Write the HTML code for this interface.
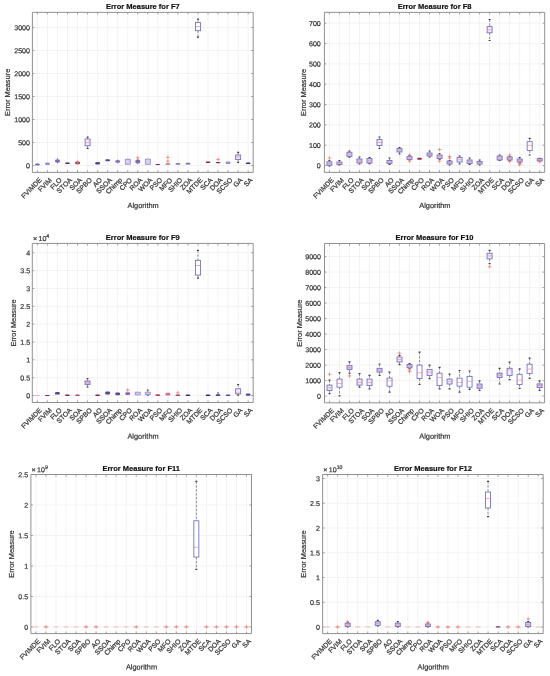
<!DOCTYPE html>
<html><head><meta charset="utf-8"><style>
html,body{margin:0;padding:0;background:#fff;}
body{width:550px;height:676px;overflow:hidden;}
svg{display:block;filter:blur(0.45px);}
text{font-family:"Liberation Sans",sans-serif;fill:#303030;stroke:#303030;stroke-width:0.2px;}
.tk{font-size:7.1px;}
.lb{font-size:7.4px;}
.xt{font-size:6.85px;}
.ti{font-size:7.5px;font-weight:bold;fill:#111;stroke:#111;}
</style></head><body>
<svg width="550" height="676" viewBox="0 0 550 676">
<rect width="550" height="676" fill="#fff"/>
<path d="M37.42 12.35V172.4M47.45 12.35V172.4M57.49 12.35V172.4M67.53 12.35V172.4M77.56 12.35V172.4M87.6 12.35V172.4M97.64 12.35V172.4M107.67 12.35V172.4M117.71 12.35V172.4M127.75 12.35V172.4M137.78 12.35V172.4M147.82 12.35V172.4M157.85 12.35V172.4M167.89 12.35V172.4M177.93 12.35V172.4M187.96 12.35V172.4M198 12.35V172.4M208.04 12.35V172.4M218.07 12.35V172.4M228.11 12.35V172.4M238.15 12.35V172.4M248.18 12.35V172.4M32.4 165.5H253.2M32.4 142.5H253.2M32.4 119.5H253.2M32.4 96.5H253.2M32.4 73.5H253.2M32.4 50.5H253.2M32.4 27.5H253.2" stroke="#f3f3f3" stroke-width="1" fill="none"/>
<rect x="35.02" y="163.5" width="4.8" height="2" rx="1.2" fill="#8068bc"/>
<rect x="45.05" y="162.6" width="4.8" height="2.4" rx="1.2" fill="#9a8cd4"/>
<path d="M57.49 158.4V163.4" stroke="#8068bc" stroke-width="1" fill="none"/>
<rect x="55.09" y="159.5" width="4.8" height="2.9" rx="1.2" fill="#8068bc"/>
<rect x="65.13" y="162.5" width="4.8" height="1.5" rx="1.2" fill="#34286a"/>
<rect x="75.16" y="161.8" width="4.8" height="2.5" rx="1.2" fill="#7a2848"/>
<path d="M75.76 161.6H79.36M77.56 159.8V163.4" stroke="#f07878" stroke-width="0.75"/>
<path d="M75.76 163H79.36M77.56 161.2V164.8" stroke="#f07878" stroke-width="0.75"/>
<path d="M87.6 137.2V139M87.6 145.8V148.5" stroke="#707070" stroke-width="0.8" fill="none" stroke-dasharray="2.4 1.5"/>
<path d="M86.6 137.2H88.6M86.6 148.5H88.6" stroke="#404040" stroke-width="1.2" fill="none"/>
<rect x="85.1" y="139" width="5" height="6.8" stroke="#6e6acc" stroke-width="0.85" fill="#eeebfa"/>
<path d="M85.1 142.5H90.1" stroke="#e69090" stroke-width="0.7"/>
<rect x="95.24" y="162" width="4.8" height="2.5" rx="1.2" fill="#5a4494"/>
<rect x="105.27" y="159.2" width="4.8" height="2" rx="1.2" fill="#5a4494"/>
<path d="M117.71 159.6V163.4" stroke="#8068bc" stroke-width="1" fill="none"/>
<rect x="115.31" y="160.2" width="4.8" height="2.4" rx="1.2" fill="#8068bc"/>
<path d="M127.75 158.8V159.3M127.75 164.2V164.8" stroke="#707070" stroke-width="0.8" fill="none" stroke-dasharray="2.4 1.5"/>
<rect x="125.25" y="159.3" width="5" height="4.9" stroke="#9a8cd4" stroke-width="0.85" fill="#d8d0f0"/>
<path d="M137.78 158.8V164.2" stroke="#8068bc" stroke-width="1" fill="none"/>
<rect x="135.38" y="159.8" width="4.8" height="3.4" rx="1.2" fill="#8068bc"/>
<path d="M135.98 157.8H139.58M137.78 156V159.6" stroke="#f07878" stroke-width="0.75"/>
<path d="M147.82 158.6V159.2M147.82 164.3V164.8" stroke="#707070" stroke-width="0.8" fill="none" stroke-dasharray="2.4 1.5"/>
<rect x="145.32" y="159.2" width="5" height="5.1" stroke="#9a8cd4" stroke-width="0.85" fill="#d8d0f0"/>
<rect x="155.45" y="164" width="4.8" height="1" rx="1.2" fill="#7a2848"/>
<rect x="165.49" y="163.6" width="4.8" height="1" rx="1.2" fill="#7a2848"/>
<path d="M166.09 157.4H169.69M167.89 155.6V159.2" stroke="#f07878" stroke-width="0.75"/>
<path d="M166.09 161.2H169.69M167.89 159.4V163" stroke="#f07878" stroke-width="0.75"/>
<rect x="175.53" y="163.2" width="4.8" height="1.4" rx="1.2" fill="#5a4494"/>
<rect x="185.56" y="162.8" width="4.8" height="1.8" rx="1.2" fill="#8068bc"/>
<path d="M198 19.2V22.4M198 30.7V37.2" stroke="#707070" stroke-width="0.8" fill="none" stroke-dasharray="2.4 1.5"/>
<path d="M197 19.2H199M197 37.2H199" stroke="#404040" stroke-width="1.2" fill="none"/>
<rect x="195.5" y="22.4" width="5" height="8.3" stroke="#6e6acc" stroke-width="0.85" fill="#fff"/>
<path d="M195.5 26.6H200.5" stroke="#e69090" stroke-width="0.7"/>
<rect x="205.64" y="161.5" width="4.8" height="1.6" rx="1.2" fill="#7a2848"/>
<rect x="215.67" y="162" width="4.8" height="1.2" rx="1.2" fill="#7a2848"/>
<path d="M216.27 159.5H219.87M218.07 157.7V161.3" stroke="#f07878" stroke-width="0.75"/>
<rect x="225.71" y="161.6" width="4.8" height="2.5" rx="1.2" fill="#9a8cd4"/>
<path d="M238.15 152.3V155M238.15 159.6V162.3" stroke="#707070" stroke-width="0.8" fill="none" stroke-dasharray="2.4 1.5"/>
<path d="M237.15 152.3H239.15M237.15 162.3H239.15" stroke="#404040" stroke-width="1.2" fill="none"/>
<rect x="235.65" y="155" width="5" height="4.6" stroke="#6e6acc" stroke-width="0.85" fill="#eeebfa"/>
<path d="M235.65 156.9H240.65" stroke="#e69090" stroke-width="0.7"/>
<rect x="245.78" y="162.5" width="4.8" height="1.6" rx="1.2" fill="#34286a"/>
<path d="M37.42 172.4v-2.0M37.42 12.35v2.0M47.45 172.4v-2.0M47.45 12.35v2.0M57.49 172.4v-2.0M57.49 12.35v2.0M67.53 172.4v-2.0M67.53 12.35v2.0M77.56 172.4v-2.0M77.56 12.35v2.0M87.6 172.4v-2.0M87.6 12.35v2.0M97.64 172.4v-2.0M97.64 12.35v2.0M107.67 172.4v-2.0M107.67 12.35v2.0M117.71 172.4v-2.0M117.71 12.35v2.0M127.75 172.4v-2.0M127.75 12.35v2.0M137.78 172.4v-2.0M137.78 12.35v2.0M147.82 172.4v-2.0M147.82 12.35v2.0M157.85 172.4v-2.0M157.85 12.35v2.0M167.89 172.4v-2.0M167.89 12.35v2.0M177.93 172.4v-2.0M177.93 12.35v2.0M187.96 172.4v-2.0M187.96 12.35v2.0M198 172.4v-2.0M198 12.35v2.0M208.04 172.4v-2.0M208.04 12.35v2.0M218.07 172.4v-2.0M218.07 12.35v2.0M228.11 172.4v-2.0M228.11 12.35v2.0M238.15 172.4v-2.0M238.15 12.35v2.0M248.18 172.4v-2.0M248.18 12.35v2.0M32.4 165.5h2.0M253.2 165.5h-2.0M32.4 142.5h2.0M253.2 142.5h-2.0M32.4 119.5h2.0M253.2 119.5h-2.0M32.4 96.5h2.0M253.2 96.5h-2.0M32.4 73.5h2.0M253.2 73.5h-2.0M32.4 50.5h2.0M253.2 50.5h-2.0M32.4 27.5h2.0M253.2 27.5h-2.0" stroke="#8c8c8c" stroke-width="0.8" fill="none"/>
<path d="M32.4 12.35H253.2V172.4H32.4Z" stroke="#919191" stroke-width="1" fill="none"/>
<text x="30" y="168.25" text-anchor="end" class="tk" transform="rotate(0.05 30 168.25)">0</text>
<text x="30" y="145.25" text-anchor="end" class="tk" transform="rotate(0.05 30 145.25)">500</text>
<text x="30" y="122.25" text-anchor="end" class="tk" transform="rotate(0.05 30 122.25)">1000</text>
<text x="30" y="99.25" text-anchor="end" class="tk" transform="rotate(0.05 30 99.25)">1500</text>
<text x="30" y="76.25" text-anchor="end" class="tk" transform="rotate(0.05 30 76.25)">2000</text>
<text x="30" y="53.25" text-anchor="end" class="tk" transform="rotate(0.05 30 53.25)">2500</text>
<text x="30" y="30.25" text-anchor="end" class="tk" transform="rotate(0.05 30 30.25)">3000</text>
<text x="42.32" y="180.6" text-anchor="end" class="xt" transform="rotate(-45 42.32 180.6)">FVIMDE</text>
<text x="52.35" y="180.6" text-anchor="end" class="xt" transform="rotate(-45 52.35 180.6)">FVIM</text>
<text x="62.39" y="180.6" text-anchor="end" class="xt" transform="rotate(-45 62.39 180.6)">FLO</text>
<text x="72.43" y="180.6" text-anchor="end" class="xt" transform="rotate(-45 72.43 180.6)">STOA</text>
<text x="82.46" y="180.6" text-anchor="end" class="xt" transform="rotate(-45 82.46 180.6)">SOA</text>
<text x="92.5" y="180.6" text-anchor="end" class="xt" transform="rotate(-45 92.5 180.6)">SPBO</text>
<text x="102.54" y="180.6" text-anchor="end" class="xt" transform="rotate(-45 102.54 180.6)">AO</text>
<text x="112.57" y="180.6" text-anchor="end" class="xt" transform="rotate(-45 112.57 180.6)">SSOA</text>
<text x="122.61" y="180.6" text-anchor="end" class="xt" transform="rotate(-45 122.61 180.6)">Chimp</text>
<text x="132.65" y="180.6" text-anchor="end" class="xt" transform="rotate(-45 132.65 180.6)">CPO</text>
<text x="142.68" y="180.6" text-anchor="end" class="xt" transform="rotate(-45 142.68 180.6)">ROA</text>
<text x="152.72" y="180.6" text-anchor="end" class="xt" transform="rotate(-45 152.72 180.6)">WOA</text>
<text x="162.75" y="180.6" text-anchor="end" class="xt" transform="rotate(-45 162.75 180.6)">PSO</text>
<text x="172.79" y="180.6" text-anchor="end" class="xt" transform="rotate(-45 172.79 180.6)">MFO</text>
<text x="182.83" y="180.6" text-anchor="end" class="xt" transform="rotate(-45 182.83 180.6)">SHIO</text>
<text x="192.86" y="180.6" text-anchor="end" class="xt" transform="rotate(-45 192.86 180.6)">ZOA</text>
<text x="202.9" y="180.6" text-anchor="end" class="xt" transform="rotate(-45 202.9 180.6)">MTDE</text>
<text x="212.94" y="180.6" text-anchor="end" class="xt" transform="rotate(-45 212.94 180.6)">SCA</text>
<text x="222.97" y="180.6" text-anchor="end" class="xt" transform="rotate(-45 222.97 180.6)">DOA</text>
<text x="233.01" y="180.6" text-anchor="end" class="xt" transform="rotate(-45 233.01 180.6)">SCSO</text>
<text x="243.05" y="180.6" text-anchor="end" class="xt" transform="rotate(-45 243.05 180.6)">GA</text>
<text x="253.08" y="180.6" text-anchor="end" class="xt" transform="rotate(-45 253.08 180.6)">SA</text>
<text x="142.8" y="9.15" text-anchor="middle" class="ti" transform="rotate(0.02 142.8 9.15)">Error Measure for F7</text>
<text x="143.1" y="207.9" text-anchor="middle" class="lb" transform="rotate(0.03 142.8 207.9)">Algorithm</text>
<text x="9.9" y="92.38" text-anchor="middle" class="lb" transform="rotate(-90 9.9 92.38)">Error Measure</text>
<path d="M329.41 12.35V172.4M339.42 12.35V172.4M349.43 12.35V172.4M359.45 12.35V172.4M369.46 12.35V172.4M379.48 12.35V172.4M389.49 12.35V172.4M399.5 12.35V172.4M409.52 12.35V172.4M419.53 12.35V172.4M429.54 12.35V172.4M439.56 12.35V172.4M449.57 12.35V172.4M459.58 12.35V172.4M469.6 12.35V172.4M479.61 12.35V172.4M489.62 12.35V172.4M499.64 12.35V172.4M509.65 12.35V172.4M519.67 12.35V172.4M529.68 12.35V172.4M539.69 12.35V172.4M324.4 165.5H544.7M324.4 145.17H544.7M324.4 124.84H544.7M324.4 104.51H544.7M324.4 84.18H544.7M324.4 63.85H544.7M324.4 43.52H544.7M324.4 23.19H544.7" stroke="#f3f3f3" stroke-width="1" fill="none"/>
<path d="M329.41 160.5V161.8M329.41 165.3V166" stroke="#707070" stroke-width="0.8" fill="none" stroke-dasharray="2.4 1.5"/>
<path d="M328.41 160.5H330.41M328.41 166H330.41" stroke="#404040" stroke-width="1.2" fill="none"/>
<rect x="326.91" y="161.8" width="5" height="3.5" stroke="#6e6acc" stroke-width="0.85" fill="#d2cbee"/>
<path d="M326.91 163.5H331.91" stroke="#e69090" stroke-width="0.7"/>
<path d="M327.61 158H331.21M329.41 156.2V159.8" stroke="#f07878" stroke-width="0.75"/>
<path d="M339.42 160.5V162M339.42 164.5V165" stroke="#707070" stroke-width="0.8" fill="none" stroke-dasharray="2.4 1.5"/>
<path d="M338.42 160.5H340.42M338.42 165H340.42" stroke="#404040" stroke-width="1.2" fill="none"/>
<rect x="336.92" y="162" width="5" height="2.5" stroke="#6e6acc" stroke-width="0.85" fill="#d2cbee"/>
<path d="M336.92 163.2H341.92" stroke="#e69090" stroke-width="0.7"/>
<path d="M349.43 151V152.2M349.43 156.4V157.2" stroke="#707070" stroke-width="0.8" fill="none" stroke-dasharray="2.4 1.5"/>
<path d="M348.43 151H350.43M348.43 157.2H350.43" stroke="#404040" stroke-width="1.2" fill="none"/>
<rect x="346.93" y="152.2" width="5" height="4.2" stroke="#6e6acc" stroke-width="0.85" fill="#d2cbee"/>
<path d="M346.93 154.2H351.93" stroke="#e69090" stroke-width="0.7"/>
<path d="M359.45 157V159M359.45 163V164" stroke="#707070" stroke-width="0.8" fill="none" stroke-dasharray="2.4 1.5"/>
<path d="M358.45 157H360.45M358.45 164H360.45" stroke="#404040" stroke-width="1.2" fill="none"/>
<rect x="356.95" y="159" width="5" height="4" stroke="#6e6acc" stroke-width="0.85" fill="#d2cbee"/>
<path d="M356.95 161H361.95" stroke="#e69090" stroke-width="0.7"/>
<path d="M369.46 157.5V158.6M369.46 163V163.6" stroke="#707070" stroke-width="0.8" fill="none" stroke-dasharray="2.4 1.5"/>
<path d="M368.46 157.5H370.46M368.46 163.6H370.46" stroke="#404040" stroke-width="1.2" fill="none"/>
<rect x="366.96" y="158.6" width="5" height="4.4" stroke="#6e6acc" stroke-width="0.85" fill="#d2cbee"/>
<path d="M366.96 160.7H371.96" stroke="#e69090" stroke-width="0.7"/>
<path d="M379.48 137V139.5M379.48 145.5V148.5" stroke="#707070" stroke-width="0.8" fill="none" stroke-dasharray="2.4 1.5"/>
<path d="M378.48 137H380.48M378.48 148.5H380.48" stroke="#404040" stroke-width="1.2" fill="none"/>
<rect x="376.98" y="139.5" width="5" height="6" stroke="#6e6acc" stroke-width="0.85" fill="#eeebfa"/>
<path d="M376.98 142.5H381.98" stroke="#e69090" stroke-width="0.7"/>
<path d="M389.49 158V160.5M389.49 163.5V164.5" stroke="#707070" stroke-width="0.8" fill="none" stroke-dasharray="2.4 1.5"/>
<path d="M388.49 158H390.49M388.49 164.5H390.49" stroke="#404040" stroke-width="1.2" fill="none"/>
<rect x="386.99" y="160.5" width="5" height="3" stroke="#6e6acc" stroke-width="0.85" fill="#d2cbee"/>
<path d="M386.99 162H391.99" stroke="#e69090" stroke-width="0.7"/>
<path d="M399.5 147.5V148.6M399.5 152V154" stroke="#707070" stroke-width="0.8" fill="none" stroke-dasharray="2.4 1.5"/>
<path d="M398.5 147.5H400.5M398.5 154H400.5" stroke="#404040" stroke-width="1.2" fill="none"/>
<rect x="397" y="148.6" width="5" height="3.4" stroke="#6e6acc" stroke-width="0.85" fill="#d2cbee"/>
<path d="M397 150.2H402" stroke="#e69090" stroke-width="0.7"/>
<path d="M409.52 155.5V156.6M409.52 159.5V160" stroke="#707070" stroke-width="0.8" fill="none" stroke-dasharray="2.4 1.5"/>
<path d="M408.52 155.5H410.52M408.52 160H410.52" stroke="#404040" stroke-width="1.2" fill="none"/>
<rect x="407.02" y="156.6" width="5" height="2.9" stroke="#6e6acc" stroke-width="0.85" fill="#d2cbee"/>
<path d="M407.02 158H412.02" stroke="#e69090" stroke-width="0.7"/>
<path d="M407.72 155H411.32M409.52 153.2V156.8" stroke="#f07878" stroke-width="0.75"/>
<path d="M407.72 161H411.32M409.52 159.2V162.8" stroke="#f07878" stroke-width="0.75"/>
<rect x="417.13" y="157.8" width="4.8" height="2" rx="1.2" fill="#a02848"/>
<path d="M429.54 151V153M429.54 156V157" stroke="#707070" stroke-width="0.8" fill="none" stroke-dasharray="2.4 1.5"/>
<path d="M428.54 151H430.54M428.54 157H430.54" stroke="#404040" stroke-width="1.2" fill="none"/>
<rect x="427.04" y="153" width="5" height="3" stroke="#6e6acc" stroke-width="0.85" fill="#d2cbee"/>
<path d="M427.04 154.5H432.04" stroke="#e69090" stroke-width="0.7"/>
<path d="M439.56 153.5V155M439.56 158.5V159.5" stroke="#707070" stroke-width="0.8" fill="none" stroke-dasharray="2.4 1.5"/>
<path d="M438.56 153.5H440.56M438.56 159.5H440.56" stroke="#404040" stroke-width="1.2" fill="none"/>
<rect x="437.06" y="155" width="5" height="3.5" stroke="#6e6acc" stroke-width="0.85" fill="#d2cbee"/>
<path d="M437.06 156.8H442.06" stroke="#e69090" stroke-width="0.7"/>
<path d="M437.76 149.5H441.36M439.56 147.7V151.3" stroke="#f07878" stroke-width="0.75"/>
<path d="M437.76 161H441.36M439.56 159.2V162.8" stroke="#f07878" stroke-width="0.75"/>
<path d="M449.57 160.5V161M449.57 164V165" stroke="#707070" stroke-width="0.8" fill="none" stroke-dasharray="2.4 1.5"/>
<path d="M448.57 160.5H450.57M448.57 165H450.57" stroke="#404040" stroke-width="1.2" fill="none"/>
<rect x="447.07" y="161" width="5" height="3" stroke="#6e6acc" stroke-width="0.85" fill="#d2cbee"/>
<path d="M447.07 162.5H452.07" stroke="#e69090" stroke-width="0.7"/>
<path d="M447.77 156.5H451.37M449.57 154.7V158.3" stroke="#f07878" stroke-width="0.75"/>
<path d="M447.77 158H451.37M449.57 156.2V159.8" stroke="#f07878" stroke-width="0.75"/>
<path d="M459.58 156V157.5M459.58 162V164" stroke="#707070" stroke-width="0.8" fill="none" stroke-dasharray="2.4 1.5"/>
<path d="M458.58 156H460.58M458.58 164H460.58" stroke="#404040" stroke-width="1.2" fill="none"/>
<rect x="457.08" y="157.5" width="5" height="4.5" stroke="#6e6acc" stroke-width="0.85" fill="#eeebfa"/>
<path d="M457.08 159.7H462.08" stroke="#e69090" stroke-width="0.7"/>
<path d="M469.6 158V160M469.6 163.5V164.5" stroke="#707070" stroke-width="0.8" fill="none" stroke-dasharray="2.4 1.5"/>
<path d="M468.6 158H470.6M468.6 164.5H470.6" stroke="#404040" stroke-width="1.2" fill="none"/>
<rect x="467.1" y="160" width="5" height="3.5" stroke="#6e6acc" stroke-width="0.85" fill="#d2cbee"/>
<path d="M467.1 161.7H472.1" stroke="#e69090" stroke-width="0.7"/>
<path d="M479.61 160V161.5M479.61 164V165" stroke="#707070" stroke-width="0.8" fill="none" stroke-dasharray="2.4 1.5"/>
<path d="M478.61 160H480.61M478.61 165H480.61" stroke="#404040" stroke-width="1.2" fill="none"/>
<rect x="477.11" y="161.5" width="5" height="2.5" stroke="#6e6acc" stroke-width="0.85" fill="#d2cbee"/>
<path d="M477.11 162.7H482.11" stroke="#e69090" stroke-width="0.7"/>
<path d="M489.62 19.5V26.6M489.62 32.8V40.5" stroke="#707070" stroke-width="0.8" fill="none" stroke-dasharray="2.4 1.5"/>
<path d="M488.62 19.5H490.62M488.62 40.5H490.62" stroke="#404040" stroke-width="1.2" fill="none"/>
<rect x="487.12" y="26.6" width="5" height="6.2" stroke="#6e6acc" stroke-width="0.85" fill="#eeebfa"/>
<path d="M487.12 29.8H492.12" stroke="#e69090" stroke-width="0.7"/>
<path d="M499.64 155V156M499.64 160V160.5" stroke="#707070" stroke-width="0.8" fill="none" stroke-dasharray="2.4 1.5"/>
<path d="M498.64 155H500.64M498.64 160.5H500.64" stroke="#404040" stroke-width="1.2" fill="none"/>
<rect x="497.14" y="156" width="5" height="4" stroke="#6e6acc" stroke-width="0.85" fill="#d2cbee"/>
<path d="M497.14 158H502.14" stroke="#e69090" stroke-width="0.7"/>
<path d="M509.65 156.5V157M509.65 160V160.5" stroke="#707070" stroke-width="0.8" fill="none" stroke-dasharray="2.4 1.5"/>
<path d="M508.65 156.5H510.65M508.65 160.5H510.65" stroke="#404040" stroke-width="1.2" fill="none"/>
<rect x="507.15" y="157" width="5" height="3" stroke="#6e6acc" stroke-width="0.85" fill="#d2cbee"/>
<path d="M507.15 158.5H512.15" stroke="#e69090" stroke-width="0.7"/>
<path d="M507.85 155H511.45M509.65 153.2V156.8" stroke="#f07878" stroke-width="0.75"/>
<path d="M507.85 161.5H511.45M509.65 159.7V163.3" stroke="#f07878" stroke-width="0.75"/>
<path d="M519.67 157.5V159M519.67 162V162.6" stroke="#707070" stroke-width="0.8" fill="none" stroke-dasharray="2.4 1.5"/>
<path d="M518.67 157.5H520.67M518.67 162.6H520.67" stroke="#404040" stroke-width="1.2" fill="none"/>
<rect x="517.17" y="159" width="5" height="3" stroke="#6e6acc" stroke-width="0.85" fill="#d2cbee"/>
<path d="M517.17 160.5H522.17" stroke="#e69090" stroke-width="0.7"/>
<path d="M517.87 163.5H521.47M519.67 161.7V165.3" stroke="#f07878" stroke-width="0.75"/>
<path d="M517.87 164.8H521.47M519.67 163V166.6" stroke="#f07878" stroke-width="0.75"/>
<path d="M529.68 138.4V141.7M529.68 150.4V155" stroke="#707070" stroke-width="0.8" fill="none" stroke-dasharray="2.4 1.5"/>
<path d="M528.68 138.4H530.68M528.68 155H530.68" stroke="#404040" stroke-width="1.2" fill="none"/>
<rect x="527.18" y="141.7" width="5" height="8.7" stroke="#6e6acc" stroke-width="0.85" fill="#fff"/>
<path d="M527.18 145.3H532.18" stroke="#e69090" stroke-width="0.7"/>
<path d="M538.69 158.3H540.69M538.69 161.2H540.69" stroke="#404040" stroke-width="1.2" fill="none"/>
<rect x="537.19" y="158.6" width="5" height="2.3" stroke="#6e6acc" stroke-width="0.85" fill="#d2cbee"/>
<path d="M537.19 159.5H542.19" stroke="#e69090" stroke-width="0.7"/>
<path d="M537.89 161.8H541.49M539.69 160V163.6" stroke="#f07878" stroke-width="0.75"/>
<path d="M329.41 172.4v-2.0M329.41 12.35v2.0M339.42 172.4v-2.0M339.42 12.35v2.0M349.43 172.4v-2.0M349.43 12.35v2.0M359.45 172.4v-2.0M359.45 12.35v2.0M369.46 172.4v-2.0M369.46 12.35v2.0M379.48 172.4v-2.0M379.48 12.35v2.0M389.49 172.4v-2.0M389.49 12.35v2.0M399.5 172.4v-2.0M399.5 12.35v2.0M409.52 172.4v-2.0M409.52 12.35v2.0M419.53 172.4v-2.0M419.53 12.35v2.0M429.54 172.4v-2.0M429.54 12.35v2.0M439.56 172.4v-2.0M439.56 12.35v2.0M449.57 172.4v-2.0M449.57 12.35v2.0M459.58 172.4v-2.0M459.58 12.35v2.0M469.6 172.4v-2.0M469.6 12.35v2.0M479.61 172.4v-2.0M479.61 12.35v2.0M489.62 172.4v-2.0M489.62 12.35v2.0M499.64 172.4v-2.0M499.64 12.35v2.0M509.65 172.4v-2.0M509.65 12.35v2.0M519.67 172.4v-2.0M519.67 12.35v2.0M529.68 172.4v-2.0M529.68 12.35v2.0M539.69 172.4v-2.0M539.69 12.35v2.0M324.4 165.5h2.0M544.7 165.5h-2.0M324.4 145.17h2.0M544.7 145.17h-2.0M324.4 124.84h2.0M544.7 124.84h-2.0M324.4 104.51h2.0M544.7 104.51h-2.0M324.4 84.18h2.0M544.7 84.18h-2.0M324.4 63.85h2.0M544.7 63.85h-2.0M324.4 43.52h2.0M544.7 43.52h-2.0M324.4 23.19h2.0M544.7 23.19h-2.0" stroke="#8c8c8c" stroke-width="0.8" fill="none"/>
<path d="M324.4 12.35H544.7V172.4H324.4Z" stroke="#919191" stroke-width="1" fill="none"/>
<text x="320.8" y="168.25" text-anchor="end" class="tk" transform="rotate(0.05 320.8 168.25)">0</text>
<text x="320.8" y="147.92" text-anchor="end" class="tk" transform="rotate(0.05 320.8 147.92)">100</text>
<text x="320.8" y="127.59" text-anchor="end" class="tk" transform="rotate(0.05 320.8 127.59)">200</text>
<text x="320.8" y="107.26" text-anchor="end" class="tk" transform="rotate(0.05 320.8 107.26)">300</text>
<text x="320.8" y="86.93" text-anchor="end" class="tk" transform="rotate(0.05 320.8 86.93)">400</text>
<text x="320.8" y="66.6" text-anchor="end" class="tk" transform="rotate(0.05 320.8 66.6)">500</text>
<text x="320.8" y="46.27" text-anchor="end" class="tk" transform="rotate(0.05 320.8 46.27)">600</text>
<text x="320.8" y="25.94" text-anchor="end" class="tk" transform="rotate(0.05 320.8 25.94)">700</text>
<text x="334.31" y="180.6" text-anchor="end" class="xt" transform="rotate(-45 334.31 180.6)">FVIMDE</text>
<text x="344.32" y="180.6" text-anchor="end" class="xt" transform="rotate(-45 344.32 180.6)">FVIM</text>
<text x="354.33" y="180.6" text-anchor="end" class="xt" transform="rotate(-45 354.33 180.6)">FLO</text>
<text x="364.35" y="180.6" text-anchor="end" class="xt" transform="rotate(-45 364.35 180.6)">STOA</text>
<text x="374.36" y="180.6" text-anchor="end" class="xt" transform="rotate(-45 374.36 180.6)">SOA</text>
<text x="384.38" y="180.6" text-anchor="end" class="xt" transform="rotate(-45 384.38 180.6)">SPBO</text>
<text x="394.39" y="180.6" text-anchor="end" class="xt" transform="rotate(-45 394.39 180.6)">AO</text>
<text x="404.4" y="180.6" text-anchor="end" class="xt" transform="rotate(-45 404.4 180.6)">SSOA</text>
<text x="414.42" y="180.6" text-anchor="end" class="xt" transform="rotate(-45 414.42 180.6)">Chimp</text>
<text x="424.43" y="180.6" text-anchor="end" class="xt" transform="rotate(-45 424.43 180.6)">CPO</text>
<text x="434.44" y="180.6" text-anchor="end" class="xt" transform="rotate(-45 434.44 180.6)">ROA</text>
<text x="444.46" y="180.6" text-anchor="end" class="xt" transform="rotate(-45 444.46 180.6)">WOA</text>
<text x="454.47" y="180.6" text-anchor="end" class="xt" transform="rotate(-45 454.47 180.6)">PSO</text>
<text x="464.48" y="180.6" text-anchor="end" class="xt" transform="rotate(-45 464.48 180.6)">MFO</text>
<text x="474.5" y="180.6" text-anchor="end" class="xt" transform="rotate(-45 474.5 180.6)">SHIO</text>
<text x="484.51" y="180.6" text-anchor="end" class="xt" transform="rotate(-45 484.51 180.6)">ZOA</text>
<text x="494.52" y="180.6" text-anchor="end" class="xt" transform="rotate(-45 494.52 180.6)">MTDE</text>
<text x="504.54" y="180.6" text-anchor="end" class="xt" transform="rotate(-45 504.54 180.6)">SCA</text>
<text x="514.55" y="180.6" text-anchor="end" class="xt" transform="rotate(-45 514.55 180.6)">DOA</text>
<text x="524.57" y="180.6" text-anchor="end" class="xt" transform="rotate(-45 524.57 180.6)">SCSO</text>
<text x="534.58" y="180.6" text-anchor="end" class="xt" transform="rotate(-45 534.58 180.6)">GA</text>
<text x="544.59" y="180.6" text-anchor="end" class="xt" transform="rotate(-45 544.59 180.6)">SA</text>
<text x="434.55" y="9.15" text-anchor="middle" class="ti" transform="rotate(0.02 434.55 9.15)">Error Measure for F8</text>
<text x="434.85" y="207.9" text-anchor="middle" class="lb" transform="rotate(0.03 434.55 207.9)">Algorithm</text>
<text x="305.9" y="92.38" text-anchor="middle" class="lb" transform="rotate(-90 305.9 92.38)">Error Measure</text>
<path d="M37.32 243.4V402.5M47.36 243.4V402.5M57.4 243.4V402.5M67.44 243.4V402.5M77.48 243.4V402.5M87.52 243.4V402.5M97.57 243.4V402.5M107.61 243.4V402.5M117.65 243.4V402.5M127.69 243.4V402.5M137.73 243.4V402.5M147.77 243.4V402.5M157.81 243.4V402.5M167.85 243.4V402.5M177.89 243.4V402.5M187.93 243.4V402.5M197.97 243.4V402.5M208.02 243.4V402.5M218.06 243.4V402.5M228.1 243.4V402.5M238.14 243.4V402.5M248.18 243.4V402.5M32.3 395.5H253.2M32.3 377.66H253.2M32.3 359.82H253.2M32.3 341.98H253.2M32.3 324.14H253.2M32.3 306.3H253.2M32.3 288.46H253.2M32.3 270.62H253.2M32.3 252.78H253.2" stroke="#f3f3f3" stroke-width="1" fill="none"/>
<path d="M34.82 395.5H39.82" stroke="#e69090" stroke-width="0.8" opacity="0.75"/>
<rect x="44.96" y="394.9" width="4.8" height="1.1" rx="1.2" fill="#7a2848"/>
<rect x="55" y="392" width="4.8" height="2.6" rx="1.2" fill="#5a4494"/>
<rect x="65.04" y="394.6" width="4.8" height="1.4" rx="1.2" fill="#7a2848"/>
<rect x="75.08" y="394.6" width="4.8" height="1.4" rx="1.2" fill="#c04060"/>
<path d="M87.52 378.5V381M87.52 384.5V387" stroke="#707070" stroke-width="0.8" fill="none" stroke-dasharray="2.4 1.5"/>
<path d="M86.52 378.5H88.52M86.52 387H88.52" stroke="#404040" stroke-width="1.2" fill="none"/>
<rect x="85.02" y="381" width="5" height="3.5" stroke="#6e6acc" stroke-width="0.85" fill="#d2cbee"/>
<path d="M85.02 382.8H90.02" stroke="#e69090" stroke-width="0.7"/>
<rect x="95.17" y="394.6" width="4.8" height="1.4" rx="1.2" fill="#7a2848"/>
<rect x="105.21" y="391.6" width="4.8" height="2.8" rx="1.2" fill="#5a4494"/>
<rect x="115.25" y="392.6" width="4.8" height="2.7" rx="1.2" fill="#5a4494"/>
<rect x="125.29" y="392.2" width="4.8" height="2.8" rx="1.2" fill="#8068bc"/>
<path d="M125.89 390H129.49M127.69 388.2V391.8" stroke="#f07878" stroke-width="0.75"/>
<path d="M137.73 391.9V392.2M137.73 394.9V395.2" stroke="#707070" stroke-width="0.8" fill="none" stroke-dasharray="2.4 1.5"/>
<rect x="135.23" y="392.2" width="5" height="2.7" stroke="#9a8cd4" stroke-width="0.85" fill="#d2cbee"/>
<path d="M147.77 390V392.2M147.77 394.6V395.2" stroke="#707070" stroke-width="0.8" fill="none" stroke-dasharray="2.4 1.5"/>
<path d="M146.77 390H148.77M146.77 395.2H148.77" stroke="#404040" stroke-width="1.2" fill="none"/>
<rect x="145.27" y="392.2" width="5" height="2.4" stroke="#9a8cd4" stroke-width="0.85" fill="#d2cbee"/>
<rect x="155.41" y="394.2" width="4.8" height="1.8" rx="1.2" fill="#c04060"/>
<rect x="165.45" y="392.8" width="4.8" height="2.8" rx="1.2" fill="#d07090"/>
<rect x="175.49" y="394.6" width="4.8" height="1.2" rx="1.2" fill="#7a2848"/>
<path d="M176.09 392.8H179.69M177.89 391V394.6" stroke="#f07878" stroke-width="0.75"/>
<rect x="185.53" y="394.6" width="4.8" height="1.4" rx="1.2" fill="#34286a"/>
<path d="M197.97 250.4V260.3M197.97 275.1V278.1" stroke="#707070" stroke-width="0.8" fill="none" stroke-dasharray="2.4 1.5"/>
<path d="M196.97 250.4H198.97M196.97 278.1H198.97" stroke="#404040" stroke-width="1.2" fill="none"/>
<rect x="195.47" y="260.3" width="5" height="14.8" stroke="#6e6acc" stroke-width="0.85" fill="#fff"/>
<path d="M195.47 265.5H200.47" stroke="#e69090" stroke-width="0.7"/>
<rect x="205.62" y="394.6" width="4.8" height="1.4" rx="1.2" fill="#34286a"/>
<path d="M218.06 392V396" stroke="#5a4494" stroke-width="1" fill="none"/>
<rect x="215.66" y="394.3" width="4.8" height="1.7" rx="1.2" fill="#5a4494"/>
<rect x="225.7" y="394.6" width="4.8" height="1.4" rx="1.2" fill="#5a4494"/>
<path d="M238.14 384.5V388.8M238.14 393.9V395.2" stroke="#707070" stroke-width="0.8" fill="none" stroke-dasharray="2.4 1.5"/>
<path d="M237.14 384.5H239.14M237.14 395.2H239.14" stroke="#404040" stroke-width="1.2" fill="none"/>
<rect x="235.64" y="388.8" width="5" height="5.1" stroke="#6e6acc" stroke-width="0.85" fill="#eeebfa"/>
<path d="M235.64 393H240.64" stroke="#e69090" stroke-width="0.7"/>
<rect x="245.78" y="393.6" width="4.8" height="2.2" rx="1.2" fill="#5a4494"/>
<path d="M37.32 402.5v-2.0M37.32 243.4v2.0M47.36 402.5v-2.0M47.36 243.4v2.0M57.4 402.5v-2.0M57.4 243.4v2.0M67.44 402.5v-2.0M67.44 243.4v2.0M77.48 402.5v-2.0M77.48 243.4v2.0M87.52 402.5v-2.0M87.52 243.4v2.0M97.57 402.5v-2.0M97.57 243.4v2.0M107.61 402.5v-2.0M107.61 243.4v2.0M117.65 402.5v-2.0M117.65 243.4v2.0M127.69 402.5v-2.0M127.69 243.4v2.0M137.73 402.5v-2.0M137.73 243.4v2.0M147.77 402.5v-2.0M147.77 243.4v2.0M157.81 402.5v-2.0M157.81 243.4v2.0M167.85 402.5v-2.0M167.85 243.4v2.0M177.89 402.5v-2.0M177.89 243.4v2.0M187.93 402.5v-2.0M187.93 243.4v2.0M197.97 402.5v-2.0M197.97 243.4v2.0M208.02 402.5v-2.0M208.02 243.4v2.0M218.06 402.5v-2.0M218.06 243.4v2.0M228.1 402.5v-2.0M228.1 243.4v2.0M238.14 402.5v-2.0M238.14 243.4v2.0M248.18 402.5v-2.0M248.18 243.4v2.0M32.3 395.5h2.0M253.2 395.5h-2.0M32.3 377.66h2.0M253.2 377.66h-2.0M32.3 359.82h2.0M253.2 359.82h-2.0M32.3 341.98h2.0M253.2 341.98h-2.0M32.3 324.14h2.0M253.2 324.14h-2.0M32.3 306.3h2.0M253.2 306.3h-2.0M32.3 288.46h2.0M253.2 288.46h-2.0M32.3 270.62h2.0M253.2 270.62h-2.0M32.3 252.78h2.0M253.2 252.78h-2.0" stroke="#8c8c8c" stroke-width="0.8" fill="none"/>
<path d="M32.3 243.4H253.2V402.5H32.3Z" stroke="#919191" stroke-width="1" fill="none"/>
<text x="30.1" y="398.25" text-anchor="end" class="tk" transform="rotate(0.05 30.1 398.25)">0</text>
<text x="30.1" y="380.41" text-anchor="end" class="tk" transform="rotate(0.05 30.1 380.41)">0.5</text>
<text x="30.1" y="362.57" text-anchor="end" class="tk" transform="rotate(0.05 30.1 362.57)">1</text>
<text x="30.1" y="344.73" text-anchor="end" class="tk" transform="rotate(0.05 30.1 344.73)">1.5</text>
<text x="30.1" y="326.89" text-anchor="end" class="tk" transform="rotate(0.05 30.1 326.89)">2</text>
<text x="30.1" y="309.05" text-anchor="end" class="tk" transform="rotate(0.05 30.1 309.05)">2.5</text>
<text x="30.1" y="291.21" text-anchor="end" class="tk" transform="rotate(0.05 30.1 291.21)">3</text>
<text x="30.1" y="273.37" text-anchor="end" class="tk" transform="rotate(0.05 30.1 273.37)">3.5</text>
<text x="30.1" y="255.53" text-anchor="end" class="tk" transform="rotate(0.05 30.1 255.53)">4</text>
<text x="42.22" y="410.7" text-anchor="end" class="xt" transform="rotate(-45 42.22 410.7)">FVIMDE</text>
<text x="52.26" y="410.7" text-anchor="end" class="xt" transform="rotate(-45 52.26 410.7)">FVIM</text>
<text x="62.3" y="410.7" text-anchor="end" class="xt" transform="rotate(-45 62.3 410.7)">FLO</text>
<text x="72.34" y="410.7" text-anchor="end" class="xt" transform="rotate(-45 72.34 410.7)">STOA</text>
<text x="82.38" y="410.7" text-anchor="end" class="xt" transform="rotate(-45 82.38 410.7)">SOA</text>
<text x="92.42" y="410.7" text-anchor="end" class="xt" transform="rotate(-45 92.42 410.7)">SPBO</text>
<text x="102.47" y="410.7" text-anchor="end" class="xt" transform="rotate(-45 102.47 410.7)">AO</text>
<text x="112.51" y="410.7" text-anchor="end" class="xt" transform="rotate(-45 112.51 410.7)">SSOA</text>
<text x="122.55" y="410.7" text-anchor="end" class="xt" transform="rotate(-45 122.55 410.7)">Chimp</text>
<text x="132.59" y="410.7" text-anchor="end" class="xt" transform="rotate(-45 132.59 410.7)">CPO</text>
<text x="142.63" y="410.7" text-anchor="end" class="xt" transform="rotate(-45 142.63 410.7)">ROA</text>
<text x="152.67" y="410.7" text-anchor="end" class="xt" transform="rotate(-45 152.67 410.7)">WOA</text>
<text x="162.71" y="410.7" text-anchor="end" class="xt" transform="rotate(-45 162.71 410.7)">PSO</text>
<text x="172.75" y="410.7" text-anchor="end" class="xt" transform="rotate(-45 172.75 410.7)">MFO</text>
<text x="182.79" y="410.7" text-anchor="end" class="xt" transform="rotate(-45 182.79 410.7)">SHIO</text>
<text x="192.83" y="410.7" text-anchor="end" class="xt" transform="rotate(-45 192.83 410.7)">ZOA</text>
<text x="202.87" y="410.7" text-anchor="end" class="xt" transform="rotate(-45 202.87 410.7)">MTDE</text>
<text x="212.92" y="410.7" text-anchor="end" class="xt" transform="rotate(-45 212.92 410.7)">SCA</text>
<text x="222.96" y="410.7" text-anchor="end" class="xt" transform="rotate(-45 222.96 410.7)">DOA</text>
<text x="233" y="410.7" text-anchor="end" class="xt" transform="rotate(-45 233 410.7)">SCSO</text>
<text x="243.04" y="410.7" text-anchor="end" class="xt" transform="rotate(-45 243.04 410.7)">GA</text>
<text x="253.08" y="410.7" text-anchor="end" class="xt" transform="rotate(-45 253.08 410.7)">SA</text>
<text x="142.75" y="239.85" text-anchor="middle" class="ti" transform="rotate(0.02 142.75 239.85)">Error Measure for F9</text>
<text x="143.05" y="438.7" text-anchor="middle" class="lb" transform="rotate(0.03 142.75 438.7)">Algorithm</text>
<text x="16.1" y="322.95" text-anchor="middle" class="lb" transform="rotate(-90 16.1 322.95)">Error Measure</text>
<text x="32.9" y="241.1" class="tk" transform="rotate(0.05 32.3 241.1)"><tspan>&#215;</tspan><tspan dx="1.4">10</tspan><tspan dy="-3.3" font-size="5.2">4</tspan></text>
<path d="M329.5 243.5V402.8M339.51 243.5V402.8M349.51 243.5V402.8M359.52 243.5V402.8M369.52 243.5V402.8M379.52 243.5V402.8M389.53 243.5V402.8M399.53 243.5V402.8M409.54 243.5V402.8M419.54 243.5V402.8M429.55 243.5V402.8M439.55 243.5V402.8M449.56 243.5V402.8M459.56 243.5V402.8M469.57 243.5V402.8M479.57 243.5V402.8M489.58 243.5V402.8M499.58 243.5V402.8M509.58 243.5V402.8M519.59 243.5V402.8M529.59 243.5V402.8M539.6 243.5V402.8M324.5 396.1H544.6M324.5 380.6H544.6M324.5 365.1H544.6M324.5 349.6H544.6M324.5 334.1H544.6M324.5 318.6H544.6M324.5 303.1H544.6M324.5 287.6H544.6M324.5 272.1H544.6M324.5 256.6H544.6" stroke="#f3f3f3" stroke-width="1" fill="none"/>
<path d="M329.5 380.2V385.1M329.5 390.5V393.7" stroke="#707070" stroke-width="0.8" fill="none" stroke-dasharray="2.4 1.5"/>
<path d="M328.5 380.2H330.5M328.5 393.7H330.5" stroke="#404040" stroke-width="1.2" fill="none"/>
<rect x="327" y="385.1" width="5" height="5.4" stroke="#6e6acc" stroke-width="0.85" fill="#eeebfa"/>
<path d="M327 387.8H332" stroke="#e69090" stroke-width="0.7"/>
<path d="M327.7 374.3H331.3M329.5 372.5V376.1" stroke="#f07878" stroke-width="0.75"/>
<path d="M339.51 372.7V379.1M339.51 387.2V395.9" stroke="#707070" stroke-width="0.8" fill="none" stroke-dasharray="2.4 1.5"/>
<path d="M338.51 372.7H340.51M338.51 395.9H340.51" stroke="#404040" stroke-width="1.2" fill="none"/>
<rect x="337.01" y="379.1" width="5" height="8.1" stroke="#6e6acc" stroke-width="0.85" fill="#fff"/>
<path d="M337.01 383.5H342.01" stroke="#e69090" stroke-width="0.7"/>
<path d="M349.51 361.9V365.6M349.51 369.4V373.2" stroke="#707070" stroke-width="0.8" fill="none" stroke-dasharray="2.4 1.5"/>
<path d="M348.51 361.9H350.51M348.51 373.2H350.51" stroke="#404040" stroke-width="1.2" fill="none"/>
<rect x="347.01" y="365.6" width="5" height="3.8" stroke="#6e6acc" stroke-width="0.85" fill="#d2cbee"/>
<path d="M347.01 367.6H352.01" stroke="#e69090" stroke-width="0.7"/>
<path d="M347.71 375.9H351.31M349.51 374.1V377.7" stroke="#f07878" stroke-width="0.75"/>
<path d="M359.52 373.7V379.1M359.52 385.1V387.2" stroke="#707070" stroke-width="0.8" fill="none" stroke-dasharray="2.4 1.5"/>
<path d="M358.52 373.7H360.52M358.52 387.2H360.52" stroke="#404040" stroke-width="1.2" fill="none"/>
<rect x="357.02" y="379.1" width="5" height="6" stroke="#6e6acc" stroke-width="0.85" fill="#eeebfa"/>
<path d="M357.02 382.4H362.02" stroke="#e69090" stroke-width="0.7"/>
<path d="M369.52 375.4V379.1M369.52 385.6V388.9" stroke="#707070" stroke-width="0.8" fill="none" stroke-dasharray="2.4 1.5"/>
<path d="M368.52 375.4H370.52M368.52 388.9H370.52" stroke="#404040" stroke-width="1.2" fill="none"/>
<rect x="367.02" y="379.1" width="5" height="6.5" stroke="#6e6acc" stroke-width="0.85" fill="#eeebfa"/>
<path d="M367.02 382.5H372.02" stroke="#e69090" stroke-width="0.7"/>
<path d="M379.52 364V368.3M379.52 372.1V375.4" stroke="#707070" stroke-width="0.8" fill="none" stroke-dasharray="2.4 1.5"/>
<path d="M378.52 364H380.52M378.52 375.4H380.52" stroke="#404040" stroke-width="1.2" fill="none"/>
<rect x="377.02" y="368.3" width="5" height="3.8" stroke="#6e6acc" stroke-width="0.85" fill="#d2cbee"/>
<path d="M377.02 370.2H382.02" stroke="#e69090" stroke-width="0.7"/>
<path d="M389.53 372.1V378.1M389.53 386.2V392.1" stroke="#707070" stroke-width="0.8" fill="none" stroke-dasharray="2.4 1.5"/>
<path d="M388.53 372.1H390.53M388.53 392.1H390.53" stroke="#404040" stroke-width="1.2" fill="none"/>
<rect x="387.03" y="378.1" width="5" height="8.1" stroke="#6e6acc" stroke-width="0.85" fill="#fff"/>
<path d="M387.03 380.8H392.03" stroke="#e69090" stroke-width="0.7"/>
<path d="M399.53 355.4V357M399.53 361.9V364.6" stroke="#707070" stroke-width="0.8" fill="none" stroke-dasharray="2.4 1.5"/>
<path d="M398.53 355.4H400.53M398.53 364.6H400.53" stroke="#404040" stroke-width="1.2" fill="none"/>
<rect x="397.03" y="357" width="5" height="4.9" stroke="#6e6acc" stroke-width="0.85" fill="#eeebfa"/>
<path d="M397.03 359.5H402.03" stroke="#e69090" stroke-width="0.7"/>
<path d="M397.73 353.2H401.33M399.53 351.4V355" stroke="#f07878" stroke-width="0.75"/>
<path d="M409.54 363.6V364.6M409.54 367.8V368.6" stroke="#707070" stroke-width="0.8" fill="none" stroke-dasharray="2.4 1.5"/>
<path d="M408.54 363.6H410.54M408.54 368.6H410.54" stroke="#404040" stroke-width="1.2" fill="none"/>
<rect x="407.04" y="364.6" width="5" height="3.2" stroke="#6e6acc" stroke-width="0.85" fill="#d2cbee"/>
<path d="M407.04 366H412.04" stroke="#e69090" stroke-width="0.7"/>
<path d="M407.74 370H411.34M409.54 368.2V371.8" stroke="#f07878" stroke-width="0.75"/>
<path d="M407.74 371.6H411.34M409.54 369.8V373.4" stroke="#f07878" stroke-width="0.75"/>
<path d="M419.54 352.1V365.1M419.54 378.6V384.5" stroke="#707070" stroke-width="0.8" fill="none" stroke-dasharray="2.4 1.5"/>
<path d="M418.54 352.1H420.54M418.54 384.5H420.54" stroke="#404040" stroke-width="1.2" fill="none"/>
<rect x="417.04" y="365.1" width="5" height="13.5" stroke="#6e6acc" stroke-width="0.85" fill="#fff"/>
<path d="M417.04 372.7H422.04" stroke="#e69090" stroke-width="0.7"/>
<path d="M429.55 365.1V369.4M429.55 375.4V378.6" stroke="#707070" stroke-width="0.8" fill="none" stroke-dasharray="2.4 1.5"/>
<path d="M428.55 365.1H430.55M428.55 378.6H430.55" stroke="#404040" stroke-width="1.2" fill="none"/>
<rect x="427.05" y="369.4" width="5" height="6" stroke="#6e6acc" stroke-width="0.85" fill="#eeebfa"/>
<path d="M427.05 372.1H432.05" stroke="#e69090" stroke-width="0.7"/>
<path d="M439.55 367.3V373.2M439.55 385.6V388.9" stroke="#707070" stroke-width="0.8" fill="none" stroke-dasharray="2.4 1.5"/>
<path d="M438.55 367.3H440.55M438.55 388.9H440.55" stroke="#404040" stroke-width="1.2" fill="none"/>
<rect x="437.05" y="373.2" width="5" height="12.4" stroke="#6e6acc" stroke-width="0.85" fill="#fff"/>
<path d="M437.05 377.5H442.05" stroke="#e69090" stroke-width="0.7"/>
<path d="M449.56 374.1V379.1M449.56 384V388.9" stroke="#707070" stroke-width="0.8" fill="none" stroke-dasharray="2.4 1.5"/>
<path d="M448.56 374.1H450.56M448.56 388.9H450.56" stroke="#404040" stroke-width="1.2" fill="none"/>
<rect x="447.06" y="379.1" width="5" height="4.9" stroke="#6e6acc" stroke-width="0.85" fill="#eeebfa"/>
<path d="M447.06 381.3H452.06" stroke="#e69090" stroke-width="0.7"/>
<path d="M459.56 370.5V378.1M459.56 386.2V392.1" stroke="#707070" stroke-width="0.8" fill="none" stroke-dasharray="2.4 1.5"/>
<path d="M458.56 370.5H460.56M458.56 392.1H460.56" stroke="#404040" stroke-width="1.2" fill="none"/>
<rect x="457.06" y="378.1" width="5" height="8.1" stroke="#6e6acc" stroke-width="0.85" fill="#fff"/>
<path d="M457.06 382.4H462.06" stroke="#e69090" stroke-width="0.7"/>
<path d="M469.57 371V376.4M469.57 387.2V389.4" stroke="#707070" stroke-width="0.8" fill="none" stroke-dasharray="2.4 1.5"/>
<path d="M468.57 371H470.57M468.57 389.4H470.57" stroke="#404040" stroke-width="1.2" fill="none"/>
<rect x="467.07" y="376.4" width="5" height="10.8" stroke="#6e6acc" stroke-width="0.85" fill="#fff"/>
<path d="M467.07 381.3H472.07" stroke="#e69090" stroke-width="0.7"/>
<path d="M479.57 380.8V384M479.57 388.3V390.5" stroke="#707070" stroke-width="0.8" fill="none" stroke-dasharray="2.4 1.5"/>
<path d="M478.57 380.8H480.57M478.57 390.5H480.57" stroke="#404040" stroke-width="1.2" fill="none"/>
<rect x="477.07" y="384" width="5" height="4.3" stroke="#6e6acc" stroke-width="0.85" fill="#d2cbee"/>
<path d="M477.07 386.2H482.07" stroke="#e69090" stroke-width="0.7"/>
<path d="M489.58 250.4V253.3M489.58 258.9V263.7" stroke="#707070" stroke-width="0.8" fill="none" stroke-dasharray="2.4 1.5"/>
<path d="M488.58 250.4H490.58M488.58 263.7H490.58" stroke="#404040" stroke-width="1.2" fill="none"/>
<rect x="487.08" y="253.3" width="5" height="5.6" stroke="#6e6acc" stroke-width="0.85" fill="#eeebfa"/>
<path d="M487.08 255.9H492.08" stroke="#e69090" stroke-width="0.7"/>
<path d="M487.78 266.8H491.38M489.58 265V268.6" stroke="#f07878" stroke-width="0.75"/>
<path d="M499.58 368.3V373.2M499.58 377.5V384" stroke="#707070" stroke-width="0.8" fill="none" stroke-dasharray="2.4 1.5"/>
<path d="M498.58 368.3H500.58M498.58 384H500.58" stroke="#404040" stroke-width="1.2" fill="none"/>
<rect x="497.08" y="373.2" width="5" height="4.3" stroke="#6e6acc" stroke-width="0.85" fill="#d2cbee"/>
<path d="M497.08 375.4H502.08" stroke="#e69090" stroke-width="0.7"/>
<path d="M509.58 362.2V368.3M509.58 375.4V379.7" stroke="#707070" stroke-width="0.8" fill="none" stroke-dasharray="2.4 1.5"/>
<path d="M508.58 362.2H510.58M508.58 379.7H510.58" stroke="#404040" stroke-width="1.2" fill="none"/>
<rect x="507.08" y="368.3" width="5" height="7.1" stroke="#6e6acc" stroke-width="0.85" fill="#eeebfa"/>
<path d="M507.08 370H512.08" stroke="#e69090" stroke-width="0.7"/>
<path d="M519.59 368.9V374.3M519.59 384.5V388.3" stroke="#707070" stroke-width="0.8" fill="none" stroke-dasharray="2.4 1.5"/>
<path d="M518.59 368.9H520.59M518.59 388.3H520.59" stroke="#404040" stroke-width="1.2" fill="none"/>
<rect x="517.09" y="374.3" width="5" height="10.2" stroke="#6e6acc" stroke-width="0.85" fill="#fff"/>
<path d="M517.09 380.2H522.09" stroke="#e69090" stroke-width="0.7"/>
<path d="M529.59 358.1V364.2M529.59 373.4V378.4" stroke="#707070" stroke-width="0.8" fill="none" stroke-dasharray="2.4 1.5"/>
<path d="M528.59 358.1H530.59M528.59 378.4H530.59" stroke="#404040" stroke-width="1.2" fill="none"/>
<rect x="527.09" y="364.2" width="5" height="9.2" stroke="#6e6acc" stroke-width="0.85" fill="#fff"/>
<path d="M527.09 369.1H532.09" stroke="#e69090" stroke-width="0.7"/>
<path d="M539.6 380.8V383.9M539.6 387.6V390.3" stroke="#707070" stroke-width="0.8" fill="none" stroke-dasharray="2.4 1.5"/>
<path d="M538.6 380.8H540.6M538.6 390.3H540.6" stroke="#404040" stroke-width="1.2" fill="none"/>
<rect x="537.1" y="383.9" width="5" height="3.7" stroke="#6e6acc" stroke-width="0.85" fill="#d2cbee"/>
<path d="M537.1 385.5H542.1" stroke="#e69090" stroke-width="0.7"/>
<path d="M329.5 402.8v-2.0M329.5 243.5v2.0M339.51 402.8v-2.0M339.51 243.5v2.0M349.51 402.8v-2.0M349.51 243.5v2.0M359.52 402.8v-2.0M359.52 243.5v2.0M369.52 402.8v-2.0M369.52 243.5v2.0M379.52 402.8v-2.0M379.52 243.5v2.0M389.53 402.8v-2.0M389.53 243.5v2.0M399.53 402.8v-2.0M399.53 243.5v2.0M409.54 402.8v-2.0M409.54 243.5v2.0M419.54 402.8v-2.0M419.54 243.5v2.0M429.55 402.8v-2.0M429.55 243.5v2.0M439.55 402.8v-2.0M439.55 243.5v2.0M449.56 402.8v-2.0M449.56 243.5v2.0M459.56 402.8v-2.0M459.56 243.5v2.0M469.57 402.8v-2.0M469.57 243.5v2.0M479.57 402.8v-2.0M479.57 243.5v2.0M489.58 402.8v-2.0M489.58 243.5v2.0M499.58 402.8v-2.0M499.58 243.5v2.0M509.58 402.8v-2.0M509.58 243.5v2.0M519.59 402.8v-2.0M519.59 243.5v2.0M529.59 402.8v-2.0M529.59 243.5v2.0M539.6 402.8v-2.0M539.6 243.5v2.0M324.5 396.1h2.0M544.6 396.1h-2.0M324.5 380.6h2.0M544.6 380.6h-2.0M324.5 365.1h2.0M544.6 365.1h-2.0M324.5 349.6h2.0M544.6 349.6h-2.0M324.5 334.1h2.0M544.6 334.1h-2.0M324.5 318.6h2.0M544.6 318.6h-2.0M324.5 303.1h2.0M544.6 303.1h-2.0M324.5 287.6h2.0M544.6 287.6h-2.0M324.5 272.1h2.0M544.6 272.1h-2.0M324.5 256.6h2.0M544.6 256.6h-2.0" stroke="#8c8c8c" stroke-width="0.8" fill="none"/>
<path d="M324.5 243.5H544.6V402.8H324.5Z" stroke="#919191" stroke-width="1" fill="none"/>
<text x="321" y="398.85" text-anchor="end" class="tk" transform="rotate(0.05 321 398.85)">0</text>
<text x="321" y="383.35" text-anchor="end" class="tk" transform="rotate(0.05 321 383.35)">1000</text>
<text x="321" y="367.85" text-anchor="end" class="tk" transform="rotate(0.05 321 367.85)">2000</text>
<text x="321" y="352.35" text-anchor="end" class="tk" transform="rotate(0.05 321 352.35)">3000</text>
<text x="321" y="336.85" text-anchor="end" class="tk" transform="rotate(0.05 321 336.85)">4000</text>
<text x="321" y="321.35" text-anchor="end" class="tk" transform="rotate(0.05 321 321.35)">5000</text>
<text x="321" y="305.85" text-anchor="end" class="tk" transform="rotate(0.05 321 305.85)">6000</text>
<text x="321" y="290.35" text-anchor="end" class="tk" transform="rotate(0.05 321 290.35)">7000</text>
<text x="321" y="274.85" text-anchor="end" class="tk" transform="rotate(0.05 321 274.85)">8000</text>
<text x="321" y="259.35" text-anchor="end" class="tk" transform="rotate(0.05 321 259.35)">9000</text>
<text x="334.4" y="411" text-anchor="end" class="xt" transform="rotate(-45 334.4 411)">FVIMDE</text>
<text x="344.41" y="411" text-anchor="end" class="xt" transform="rotate(-45 344.41 411)">FVIM</text>
<text x="354.41" y="411" text-anchor="end" class="xt" transform="rotate(-45 354.41 411)">FLO</text>
<text x="364.42" y="411" text-anchor="end" class="xt" transform="rotate(-45 364.42 411)">STOA</text>
<text x="374.42" y="411" text-anchor="end" class="xt" transform="rotate(-45 374.42 411)">SOA</text>
<text x="384.42" y="411" text-anchor="end" class="xt" transform="rotate(-45 384.42 411)">SPBO</text>
<text x="394.43" y="411" text-anchor="end" class="xt" transform="rotate(-45 394.43 411)">AO</text>
<text x="404.43" y="411" text-anchor="end" class="xt" transform="rotate(-45 404.43 411)">SSOA</text>
<text x="414.44" y="411" text-anchor="end" class="xt" transform="rotate(-45 414.44 411)">Chimp</text>
<text x="424.44" y="411" text-anchor="end" class="xt" transform="rotate(-45 424.44 411)">CPO</text>
<text x="434.45" y="411" text-anchor="end" class="xt" transform="rotate(-45 434.45 411)">ROA</text>
<text x="444.45" y="411" text-anchor="end" class="xt" transform="rotate(-45 444.45 411)">WOA</text>
<text x="454.46" y="411" text-anchor="end" class="xt" transform="rotate(-45 454.46 411)">PSO</text>
<text x="464.46" y="411" text-anchor="end" class="xt" transform="rotate(-45 464.46 411)">MFO</text>
<text x="474.47" y="411" text-anchor="end" class="xt" transform="rotate(-45 474.47 411)">SHIO</text>
<text x="484.47" y="411" text-anchor="end" class="xt" transform="rotate(-45 484.47 411)">ZOA</text>
<text x="494.48" y="411" text-anchor="end" class="xt" transform="rotate(-45 494.48 411)">MTDE</text>
<text x="504.48" y="411" text-anchor="end" class="xt" transform="rotate(-45 504.48 411)">SCA</text>
<text x="514.48" y="411" text-anchor="end" class="xt" transform="rotate(-45 514.48 411)">DOA</text>
<text x="524.49" y="411" text-anchor="end" class="xt" transform="rotate(-45 524.49 411)">SCSO</text>
<text x="534.49" y="411" text-anchor="end" class="xt" transform="rotate(-45 534.49 411)">GA</text>
<text x="544.5" y="411" text-anchor="end" class="xt" transform="rotate(-45 544.5 411)">SA</text>
<text x="434.55" y="239.85" text-anchor="middle" class="ti" transform="rotate(0.02 434.55 239.85)">Error Measure for F10</text>
<text x="434.85" y="438.8" text-anchor="middle" class="lb" transform="rotate(0.03 434.55 438.8)">Algorithm</text>
<text x="302.2" y="323.15" text-anchor="middle" class="lb" transform="rotate(-90 302.2 323.15)">Error Measure</text>
<path d="M35.91 474.5V633.6M45.94 474.5V633.6M55.97 474.5V633.6M66 474.5V633.6M76.02 474.5V633.6M86.05 474.5V633.6M96.08 474.5V633.6M106.1 474.5V633.6M116.13 474.5V633.6M126.16 474.5V633.6M136.19 474.5V633.6M146.21 474.5V633.6M156.24 474.5V633.6M166.27 474.5V633.6M176.3 474.5V633.6M186.32 474.5V633.6M196.35 474.5V633.6M206.38 474.5V633.6M216.4 474.5V633.6M226.43 474.5V633.6M236.46 474.5V633.6M246.49 474.5V633.6M30.9 626.9H251.5M30.9 596.42H251.5M30.9 565.94H251.5M30.9 535.46H251.5M30.9 504.98H251.5M30.9 474.5H251.5" stroke="#f3f3f3" stroke-width="1" fill="none"/>
<path d="M33.41 626.9H38.41" stroke="#e69090" stroke-width="0.8" opacity="0.75"/>
<path d="M43.44 626.9H48.44" stroke="#e69090" stroke-width="0.8" opacity="0.75"/>
<path d="M44.14 626.9H47.74M45.94 625.1V628.7" stroke="#f07878" stroke-width="0.75"/>
<path d="M53.47 626.9H58.47" stroke="#e69090" stroke-width="0.8" opacity="0.75"/>
<path d="M63.5 626.9H68.5" stroke="#e69090" stroke-width="0.8" opacity="0.75"/>
<path d="M73.52 626.9H78.52" stroke="#e69090" stroke-width="0.8" opacity="0.75"/>
<path d="M83.55 626.9H88.55" stroke="#e69090" stroke-width="0.8" opacity="0.75"/>
<path d="M84.25 626.9H87.85M86.05 625.1V628.7" stroke="#f07878" stroke-width="0.75"/>
<path d="M93.58 626.9H98.58" stroke="#e69090" stroke-width="0.8" opacity="0.75"/>
<path d="M94.28 626.9H97.88M96.08 625.1V628.7" stroke="#f07878" stroke-width="0.75"/>
<path d="M103.6 626.9H108.6" stroke="#e69090" stroke-width="0.8" opacity="0.75"/>
<path d="M113.63 626.9H118.63" stroke="#e69090" stroke-width="0.8" opacity="0.75"/>
<path d="M123.66 626.9H128.66" stroke="#e69090" stroke-width="0.8" opacity="0.75"/>
<path d="M133.69 626.9H138.69" stroke="#e69090" stroke-width="0.8" opacity="0.75"/>
<path d="M134.39 626.9H137.99M136.19 625.1V628.7" stroke="#f07878" stroke-width="0.75"/>
<path d="M143.71 626.9H148.71" stroke="#e69090" stroke-width="0.8" opacity="0.75"/>
<path d="M153.74 626.9H158.74" stroke="#e69090" stroke-width="0.8" opacity="0.75"/>
<path d="M163.77 626.9H168.77" stroke="#e69090" stroke-width="0.8" opacity="0.75"/>
<path d="M164.47 626.9H168.07M166.27 625.1V628.7" stroke="#f07878" stroke-width="0.75"/>
<path d="M173.8 626.9H178.8" stroke="#e69090" stroke-width="0.8" opacity="0.75"/>
<path d="M174.5 626.9H178.1M176.3 625.1V628.7" stroke="#f07878" stroke-width="0.75"/>
<path d="M183.82 626.9H188.82" stroke="#e69090" stroke-width="0.8" opacity="0.75"/>
<path d="M184.52 626.9H188.12M186.32 625.1V628.7" stroke="#f07878" stroke-width="0.75"/>
<path d="M196.35 481.4V520.8M196.35 557.1V569.3" stroke="#707070" stroke-width="0.8" fill="none" stroke-dasharray="2.4 1.5"/>
<path d="M195.35 481.4H197.35M195.35 569.3H197.35" stroke="#404040" stroke-width="1.2" fill="none"/>
<rect x="193.85" y="520.8" width="5" height="36.3" stroke="#6e6acc" stroke-width="0.85" fill="#fff"/>
<path d="M193.85 547.3H198.85" stroke="#e69090" stroke-width="0.7"/>
<path d="M203.88 626.9H208.88" stroke="#e69090" stroke-width="0.8" opacity="0.75"/>
<path d="M204.58 626.9H208.18M206.38 625.1V628.7" stroke="#f07878" stroke-width="0.75"/>
<path d="M213.9 626.9H218.9" stroke="#e69090" stroke-width="0.8" opacity="0.75"/>
<path d="M214.6 626.9H218.2M216.4 625.1V628.7" stroke="#f07878" stroke-width="0.75"/>
<path d="M223.93 626.9H228.93" stroke="#e69090" stroke-width="0.8" opacity="0.75"/>
<path d="M224.63 626.9H228.23M226.43 625.1V628.7" stroke="#f07878" stroke-width="0.75"/>
<path d="M233.96 626.9H238.96" stroke="#e69090" stroke-width="0.8" opacity="0.75"/>
<path d="M234.66 626.9H238.26M236.46 625.1V628.7" stroke="#f07878" stroke-width="0.75"/>
<path d="M243.99 626.9H248.99" stroke="#e69090" stroke-width="0.8" opacity="0.75"/>
<path d="M244.69 626.9H248.29M246.49 625.1V628.7" stroke="#f07878" stroke-width="0.75"/>
<path d="M35.91 633.6v-2.0M35.91 474.5v2.0M45.94 633.6v-2.0M45.94 474.5v2.0M55.97 633.6v-2.0M55.97 474.5v2.0M66 633.6v-2.0M66 474.5v2.0M76.02 633.6v-2.0M76.02 474.5v2.0M86.05 633.6v-2.0M86.05 474.5v2.0M96.08 633.6v-2.0M96.08 474.5v2.0M106.1 633.6v-2.0M106.1 474.5v2.0M116.13 633.6v-2.0M116.13 474.5v2.0M126.16 633.6v-2.0M126.16 474.5v2.0M136.19 633.6v-2.0M136.19 474.5v2.0M146.21 633.6v-2.0M146.21 474.5v2.0M156.24 633.6v-2.0M156.24 474.5v2.0M166.27 633.6v-2.0M166.27 474.5v2.0M176.3 633.6v-2.0M176.3 474.5v2.0M186.32 633.6v-2.0M186.32 474.5v2.0M196.35 633.6v-2.0M196.35 474.5v2.0M206.38 633.6v-2.0M206.38 474.5v2.0M216.4 633.6v-2.0M216.4 474.5v2.0M226.43 633.6v-2.0M226.43 474.5v2.0M236.46 633.6v-2.0M236.46 474.5v2.0M246.49 633.6v-2.0M246.49 474.5v2.0M30.9 626.9h2.0M251.5 626.9h-2.0M30.9 596.42h2.0M251.5 596.42h-2.0M30.9 565.94h2.0M251.5 565.94h-2.0M30.9 535.46h2.0M251.5 535.46h-2.0M30.9 504.98h2.0M251.5 504.98h-2.0M30.9 474.5h2.0M251.5 474.5h-2.0" stroke="#8c8c8c" stroke-width="0.8" fill="none"/>
<path d="M30.9 474.5H251.5V633.6H30.9Z" stroke="#919191" stroke-width="1" fill="none"/>
<text x="28.1" y="629.65" text-anchor="end" class="tk" transform="rotate(0.05 28.1 629.65)">0</text>
<text x="28.1" y="599.17" text-anchor="end" class="tk" transform="rotate(0.05 28.1 599.17)">0.5</text>
<text x="28.1" y="568.69" text-anchor="end" class="tk" transform="rotate(0.05 28.1 568.69)">1</text>
<text x="28.1" y="538.21" text-anchor="end" class="tk" transform="rotate(0.05 28.1 538.21)">1.5</text>
<text x="28.1" y="507.73" text-anchor="end" class="tk" transform="rotate(0.05 28.1 507.73)">2</text>
<text x="28.1" y="477.25" text-anchor="end" class="tk" transform="rotate(0.05 28.1 477.25)">2.5</text>
<text x="40.81" y="641.8" text-anchor="end" class="xt" transform="rotate(-45 40.81 641.8)">FVIMDE</text>
<text x="50.84" y="641.8" text-anchor="end" class="xt" transform="rotate(-45 50.84 641.8)">FVIM</text>
<text x="60.87" y="641.8" text-anchor="end" class="xt" transform="rotate(-45 60.87 641.8)">FLO</text>
<text x="70.9" y="641.8" text-anchor="end" class="xt" transform="rotate(-45 70.9 641.8)">STOA</text>
<text x="80.92" y="641.8" text-anchor="end" class="xt" transform="rotate(-45 80.92 641.8)">SOA</text>
<text x="90.95" y="641.8" text-anchor="end" class="xt" transform="rotate(-45 90.95 641.8)">SPBO</text>
<text x="100.98" y="641.8" text-anchor="end" class="xt" transform="rotate(-45 100.98 641.8)">AO</text>
<text x="111" y="641.8" text-anchor="end" class="xt" transform="rotate(-45 111 641.8)">SSOA</text>
<text x="121.03" y="641.8" text-anchor="end" class="xt" transform="rotate(-45 121.03 641.8)">Chimp</text>
<text x="131.06" y="641.8" text-anchor="end" class="xt" transform="rotate(-45 131.06 641.8)">CPO</text>
<text x="141.09" y="641.8" text-anchor="end" class="xt" transform="rotate(-45 141.09 641.8)">ROA</text>
<text x="151.11" y="641.8" text-anchor="end" class="xt" transform="rotate(-45 151.11 641.8)">WOA</text>
<text x="161.14" y="641.8" text-anchor="end" class="xt" transform="rotate(-45 161.14 641.8)">PSO</text>
<text x="171.17" y="641.8" text-anchor="end" class="xt" transform="rotate(-45 171.17 641.8)">MFO</text>
<text x="181.2" y="641.8" text-anchor="end" class="xt" transform="rotate(-45 181.2 641.8)">SHIO</text>
<text x="191.22" y="641.8" text-anchor="end" class="xt" transform="rotate(-45 191.22 641.8)">ZOA</text>
<text x="201.25" y="641.8" text-anchor="end" class="xt" transform="rotate(-45 201.25 641.8)">MTDE</text>
<text x="211.28" y="641.8" text-anchor="end" class="xt" transform="rotate(-45 211.28 641.8)">SCA</text>
<text x="221.3" y="641.8" text-anchor="end" class="xt" transform="rotate(-45 221.3 641.8)">DOA</text>
<text x="231.33" y="641.8" text-anchor="end" class="xt" transform="rotate(-45 231.33 641.8)">SCSO</text>
<text x="241.36" y="641.8" text-anchor="end" class="xt" transform="rotate(-45 241.36 641.8)">GA</text>
<text x="251.39" y="641.8" text-anchor="end" class="xt" transform="rotate(-45 251.39 641.8)">SA</text>
<text x="141.2" y="470.8" text-anchor="middle" class="ti" transform="rotate(0.02 141.2 470.8)">Error Measure for F11</text>
<text x="141.5" y="669.45" text-anchor="middle" class="lb" transform="rotate(0.03 141.2 669.45)">Algorithm</text>
<text x="13.6" y="554.05" text-anchor="middle" class="lb" transform="rotate(-90 13.6 554.05)">Error Measure</text>
<text x="31.5" y="472.2" class="tk" transform="rotate(0.05 30.9 472.2)"><tspan>&#215;</tspan><tspan dx="1.4">10</tspan><tspan dy="-3.3" font-size="5.2">9</tspan></text>
<path d="M327.61 474.5V633.6M337.64 474.5V633.6M347.67 474.5V633.6M357.7 474.5V633.6M367.72 474.5V633.6M377.75 474.5V633.6M387.78 474.5V633.6M397.8 474.5V633.6M407.83 474.5V633.6M417.86 474.5V633.6M427.89 474.5V633.6M437.91 474.5V633.6M447.94 474.5V633.6M457.97 474.5V633.6M468 474.5V633.6M478.02 474.5V633.6M488.05 474.5V633.6M498.08 474.5V633.6M508.1 474.5V633.6M518.13 474.5V633.6M528.16 474.5V633.6M538.19 474.5V633.6M322.6 627H543.2M322.6 602.25H543.2M322.6 577.5H543.2M322.6 552.75H543.2M322.6 528H543.2M322.6 503.25H543.2M322.6 478.5H543.2" stroke="#f3f3f3" stroke-width="1" fill="none"/>
<path d="M325.11 627H330.11" stroke="#e69090" stroke-width="0.8" opacity="0.75"/>
<path d="M335.14 627H340.14" stroke="#e69090" stroke-width="0.8" opacity="0.75"/>
<path d="M335.84 627H339.44M337.64 625.2V628.8" stroke="#f07878" stroke-width="0.75"/>
<path d="M347.67 622.5V623.2" stroke="#707070" stroke-width="0.8" fill="none" stroke-dasharray="2.4 1.5"/>
<path d="M346.67 622.5H348.67M346.67 626.8H348.67" stroke="#404040" stroke-width="1.2" fill="none"/>
<rect x="345.17" y="623.2" width="5" height="3.3" stroke="#6e6acc" stroke-width="0.85" fill="#d2cbee"/>
<path d="M345.17 624.8H350.17" stroke="#e69090" stroke-width="0.7"/>
<path d="M345.87 621.7H349.47M347.67 619.9V623.5" stroke="#f07878" stroke-width="0.75"/>
<path d="M355.2 627H360.2" stroke="#e69090" stroke-width="0.8" opacity="0.75"/>
<path d="M365.22 627H370.22" stroke="#e69090" stroke-width="0.8" opacity="0.75"/>
<path d="M377.75 620.3V621.7M377.75 625.4V626" stroke="#707070" stroke-width="0.8" fill="none" stroke-dasharray="2.4 1.5"/>
<path d="M376.75 620.3H378.75M376.75 626H378.75" stroke="#404040" stroke-width="1.2" fill="none"/>
<rect x="375.25" y="621.7" width="5" height="3.7" stroke="#6e6acc" stroke-width="0.85" fill="#d2cbee"/>
<path d="M375.25 623.6H380.25" stroke="#e69090" stroke-width="0.7"/>
<path d="M385.28 627H390.28" stroke="#e69090" stroke-width="0.8" opacity="0.75"/>
<path d="M397.8 621.7V623.2" stroke="#707070" stroke-width="0.8" fill="none" stroke-dasharray="2.4 1.5"/>
<path d="M396.8 621.7H398.8M396.8 626.8H398.8" stroke="#404040" stroke-width="1.2" fill="none"/>
<rect x="395.3" y="623.2" width="5" height="3.3" stroke="#6e6acc" stroke-width="0.85" fill="#d2cbee"/>
<path d="M395.3 624.8H400.3" stroke="#e69090" stroke-width="0.7"/>
<path d="M405.33 627H410.33" stroke="#e69090" stroke-width="0.8" opacity="0.75"/>
<path d="M415.36 627H420.36" stroke="#e69090" stroke-width="0.8" opacity="0.75"/>
<path d="M427.89 623V624" stroke="#707070" stroke-width="0.8" fill="none" stroke-dasharray="2.4 1.5"/>
<path d="M426.89 623H428.89M426.89 626.8H428.89" stroke="#404040" stroke-width="1.2" fill="none"/>
<rect x="425.39" y="624" width="5" height="2.6" stroke="#6e6acc" stroke-width="0.85" fill="#d2cbee"/>
<path d="M425.39 625.4H430.39" stroke="#e69090" stroke-width="0.7"/>
<path d="M426.09 622.4H429.69M427.89 620.6V624.2" stroke="#f07878" stroke-width="0.75"/>
<path d="M435.41 627H440.41" stroke="#e69090" stroke-width="0.8" opacity="0.75"/>
<path d="M436.11 627H439.71M437.91 625.2V628.8" stroke="#f07878" stroke-width="0.75"/>
<path d="M445.44 627H450.44" stroke="#e69090" stroke-width="0.8" opacity="0.75"/>
<path d="M446.14 627H449.74M447.94 625.2V628.8" stroke="#f07878" stroke-width="0.75"/>
<path d="M455.47 627H460.47" stroke="#e69090" stroke-width="0.8" opacity="0.75"/>
<path d="M456.17 627H459.77M457.97 625.2V628.8" stroke="#f07878" stroke-width="0.75"/>
<path d="M465.5 627H470.5" stroke="#e69090" stroke-width="0.8" opacity="0.75"/>
<path d="M475.52 627H480.52" stroke="#e69090" stroke-width="0.8" opacity="0.75"/>
<path d="M488.05 481.3V492M488.05 508V516.6" stroke="#707070" stroke-width="0.8" fill="none" stroke-dasharray="2.4 1.5"/>
<path d="M487.05 481.3H489.05M487.05 516.6H489.05" stroke="#404040" stroke-width="1.2" fill="none"/>
<rect x="485.55" y="492" width="5" height="16" stroke="#6e6acc" stroke-width="0.85" fill="#fff"/>
<path d="M485.55 498.6H490.55" stroke="#e69090" stroke-width="0.7"/>
<rect x="495.68" y="626.3" width="4.8" height="1.2" rx="1.2" fill="#7a2848"/>
<path d="M505.6 627H510.6" stroke="#e69090" stroke-width="0.8" opacity="0.75"/>
<path d="M506.3 627H509.9M508.1 625.2V628.8" stroke="#f07878" stroke-width="0.75"/>
<path d="M515.63 627H520.63" stroke="#e69090" stroke-width="0.8" opacity="0.75"/>
<path d="M516.33 627H519.93M518.13 625.2V628.8" stroke="#f07878" stroke-width="0.75"/>
<path d="M528.16 621.5V622.4" stroke="#707070" stroke-width="0.8" fill="none" stroke-dasharray="2.4 1.5"/>
<path d="M527.16 621.5H529.16M527.16 626.8H529.16" stroke="#404040" stroke-width="1.2" fill="none"/>
<rect x="525.66" y="622.4" width="5" height="4.2" stroke="#6e6acc" stroke-width="0.85" fill="#d2cbee"/>
<path d="M525.66 624.6H530.66" stroke="#e69090" stroke-width="0.7"/>
<path d="M526.36 619H529.96M528.16 617.2V620.8" stroke="#f07878" stroke-width="0.75"/>
<path d="M535.69 627H540.69" stroke="#e69090" stroke-width="0.8" opacity="0.75"/>
<path d="M327.61 633.6v-2.0M327.61 474.5v2.0M337.64 633.6v-2.0M337.64 474.5v2.0M347.67 633.6v-2.0M347.67 474.5v2.0M357.7 633.6v-2.0M357.7 474.5v2.0M367.72 633.6v-2.0M367.72 474.5v2.0M377.75 633.6v-2.0M377.75 474.5v2.0M387.78 633.6v-2.0M387.78 474.5v2.0M397.8 633.6v-2.0M397.8 474.5v2.0M407.83 633.6v-2.0M407.83 474.5v2.0M417.86 633.6v-2.0M417.86 474.5v2.0M427.89 633.6v-2.0M427.89 474.5v2.0M437.91 633.6v-2.0M437.91 474.5v2.0M447.94 633.6v-2.0M447.94 474.5v2.0M457.97 633.6v-2.0M457.97 474.5v2.0M468 633.6v-2.0M468 474.5v2.0M478.02 633.6v-2.0M478.02 474.5v2.0M488.05 633.6v-2.0M488.05 474.5v2.0M498.08 633.6v-2.0M498.08 474.5v2.0M508.1 633.6v-2.0M508.1 474.5v2.0M518.13 633.6v-2.0M518.13 474.5v2.0M528.16 633.6v-2.0M528.16 474.5v2.0M538.19 633.6v-2.0M538.19 474.5v2.0M322.6 627h2.0M543.2 627h-2.0M322.6 602.25h2.0M543.2 602.25h-2.0M322.6 577.5h2.0M543.2 577.5h-2.0M322.6 552.75h2.0M543.2 552.75h-2.0M322.6 528h2.0M543.2 528h-2.0M322.6 503.25h2.0M543.2 503.25h-2.0M322.6 478.5h2.0M543.2 478.5h-2.0" stroke="#8c8c8c" stroke-width="0.8" fill="none"/>
<path d="M322.6 474.5H543.2V633.6H322.6Z" stroke="#919191" stroke-width="1" fill="none"/>
<text x="319.9" y="629.75" text-anchor="end" class="tk" transform="rotate(0.05 319.9 629.75)">0</text>
<text x="319.9" y="605" text-anchor="end" class="tk" transform="rotate(0.05 319.9 605)">0.5</text>
<text x="319.9" y="580.25" text-anchor="end" class="tk" transform="rotate(0.05 319.9 580.25)">1</text>
<text x="319.9" y="555.5" text-anchor="end" class="tk" transform="rotate(0.05 319.9 555.5)">1.5</text>
<text x="319.9" y="530.75" text-anchor="end" class="tk" transform="rotate(0.05 319.9 530.75)">2</text>
<text x="319.9" y="506" text-anchor="end" class="tk" transform="rotate(0.05 319.9 506)">2.5</text>
<text x="319.9" y="481.25" text-anchor="end" class="tk" transform="rotate(0.05 319.9 481.25)">3</text>
<text x="332.51" y="641.8" text-anchor="end" class="xt" transform="rotate(-45 332.51 641.8)">FVIMDE</text>
<text x="342.54" y="641.8" text-anchor="end" class="xt" transform="rotate(-45 342.54 641.8)">FVIM</text>
<text x="352.57" y="641.8" text-anchor="end" class="xt" transform="rotate(-45 352.57 641.8)">FLO</text>
<text x="362.6" y="641.8" text-anchor="end" class="xt" transform="rotate(-45 362.6 641.8)">STOA</text>
<text x="372.62" y="641.8" text-anchor="end" class="xt" transform="rotate(-45 372.62 641.8)">SOA</text>
<text x="382.65" y="641.8" text-anchor="end" class="xt" transform="rotate(-45 382.65 641.8)">SPBO</text>
<text x="392.68" y="641.8" text-anchor="end" class="xt" transform="rotate(-45 392.68 641.8)">AO</text>
<text x="402.7" y="641.8" text-anchor="end" class="xt" transform="rotate(-45 402.7 641.8)">SSOA</text>
<text x="412.73" y="641.8" text-anchor="end" class="xt" transform="rotate(-45 412.73 641.8)">Chimp</text>
<text x="422.76" y="641.8" text-anchor="end" class="xt" transform="rotate(-45 422.76 641.8)">CPO</text>
<text x="432.79" y="641.8" text-anchor="end" class="xt" transform="rotate(-45 432.79 641.8)">ROA</text>
<text x="442.81" y="641.8" text-anchor="end" class="xt" transform="rotate(-45 442.81 641.8)">WOA</text>
<text x="452.84" y="641.8" text-anchor="end" class="xt" transform="rotate(-45 452.84 641.8)">PSO</text>
<text x="462.87" y="641.8" text-anchor="end" class="xt" transform="rotate(-45 462.87 641.8)">MFO</text>
<text x="472.9" y="641.8" text-anchor="end" class="xt" transform="rotate(-45 472.9 641.8)">SHIO</text>
<text x="482.92" y="641.8" text-anchor="end" class="xt" transform="rotate(-45 482.92 641.8)">ZOA</text>
<text x="492.95" y="641.8" text-anchor="end" class="xt" transform="rotate(-45 492.95 641.8)">MTDE</text>
<text x="502.98" y="641.8" text-anchor="end" class="xt" transform="rotate(-45 502.98 641.8)">SCA</text>
<text x="513" y="641.8" text-anchor="end" class="xt" transform="rotate(-45 513 641.8)">DOA</text>
<text x="523.03" y="641.8" text-anchor="end" class="xt" transform="rotate(-45 523.03 641.8)">SCSO</text>
<text x="533.06" y="641.8" text-anchor="end" class="xt" transform="rotate(-45 533.06 641.8)">GA</text>
<text x="543.09" y="641.8" text-anchor="end" class="xt" transform="rotate(-45 543.09 641.8)">SA</text>
<text x="432.9" y="470.8" text-anchor="middle" class="ti" transform="rotate(0.02 432.9 470.8)">Error Measure for F12</text>
<text x="433.2" y="669.45" text-anchor="middle" class="lb" transform="rotate(0.03 432.9 669.45)">Algorithm</text>
<text x="306" y="554.05" text-anchor="middle" class="lb" transform="rotate(-90 306 554.05)">Error Measure</text>
<text x="323.2" y="472.2" class="tk" transform="rotate(0.05 322.6 472.2)"><tspan>&#215;</tspan><tspan dx="1.4">10</tspan><tspan dy="-3.3" font-size="5.2">10</tspan></text>
</svg>
</body></html>
